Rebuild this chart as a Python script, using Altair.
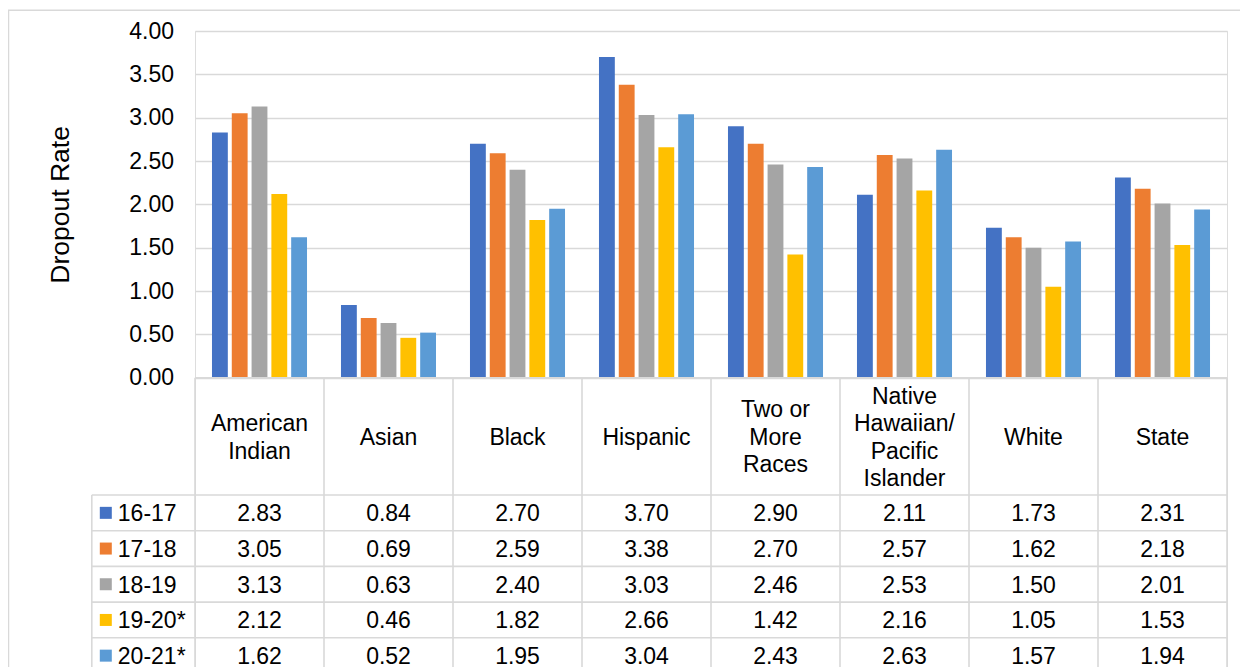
import altair as alt
import pandas as pd

# ---------------- data ----------------
categories = ["American Indian", "Asian", "Black", "Hispanic", "Two or More Races",
              "Native Hawaiian/Pacific Islander", "White", "State"]
header_labels = ["American\nIndian", "Asian", "Black", "Hispanic", "Two or\nMore\nRaces",
                 "Native\nHawaiian/\nPacific\nIslander", "White", "State"]
series = ["16-17", "17-18", "18-19", "19-20*", "20-21*"]
colors = ["#4472C4", "#ED7D31", "#A5A5A5", "#FFC000", "#5B9BD5"]

v_16_17 = [2.83, 0.84, 2.70, 3.70, 2.90, 2.11, 1.73, 2.31]
v_17_18 = [3.05, 0.69, 2.59, 3.38, 2.70, 2.57, 1.62, 2.18]
v_18_19 = [3.13, 0.63, 2.40, 3.03, 2.46, 2.53, 1.50, 2.01]
v_19_20 = [2.12, 0.46, 1.82, 2.66, 1.42, 2.16, 1.05, 1.53]
v_20_21 = [1.62, 0.52, 1.95, 3.04, 2.43, 2.63, 1.57, 1.94]
values = [v_16_17, v_17_18, v_18_19, v_19_20, v_20_21]

y_ticks = [0.0, 0.5, 1.0, 1.5, 2.0, 2.5, 3.0, 3.5, 4.0]

# ---------------- layout constants ----------------
FONT = "Liberation Sans"
GRID = "#d9d9d9"
FS = 23
HEADER_TOP = -3.286      # header row top in table-row units
LEG_COL = -0.8           # legend column left edge in table-column units
LINE_H = 0.77            # header line height in table-row units

# ---------------- tables ----------------
rows = []
for r, s in enumerate(series):
    for c, cat in enumerate(categories):
        rows.append({"category": cat, "series": s, "value": values[r][c],
                     "cx": c + 0.5, "cy": r + 0.5})
df = pd.DataFrame(rows)

head_rows = []
for c, lab in enumerate(header_labels):
    parts = lab.split("\n")
    n = len(parts)
    for k, p in enumerate(parts):
        head_rows.append({"label": p, "cx": c + 0.5,
                          "cy": HEADER_TOP / 2 + (k - (n - 1) / 2) * LINE_H})
df_head = pd.DataFrame(head_rows)

df_rowlab = pd.DataFrame({"series": series,
                          "cx": [LEG_COL] * len(series),
                          "cy": [r + 0.5 for r in range(len(series))]})

nC, nR = len(categories), len(series)
BOTTOM = nR + 0.6
hl = [{"x": 0, "x2": nC, "y": HEADER_TOP}] + \
     [{"x": LEG_COL, "x2": nC, "y": r} for r in range(nR + 1)]
vl = [{"x": LEG_COL, "y": 0, "y2": BOTTOM}] + \
     [{"x": c, "y": HEADER_TOP, "y2": BOTTOM} for c in range(nC + 1)]
df_hl = pd.DataFrame(hl)
df_vl = pd.DataFrame(vl)

color_scale = alt.Scale(domain=series, range=colors)

# ---------------- bar chart ----------------
bars = alt.Chart(df).mark_bar().encode(
    x=alt.X("category:N", sort=categories,
            scale=alt.Scale(domain=categories, paddingInner=0.2326, paddingOuter=0.1163),
            axis=None),
    xOffset=alt.XOffset("series:N", sort=series,
                        scale=alt.Scale(domain=series, paddingInner=0.2, paddingOuter=0.1)),
    y=alt.Y("value:Q",
            scale=alt.Scale(domain=[0, 4], range=[346.7, 0], nice=False),
            axis=alt.Axis(values=y_ticks, format=".2f", title="Dropout Rate",
                          labelFontSize=FS, labelColor="black", labelFont=FONT,
                          labelPadding=21.5, ticks=False, tickSize=0, domain=False,
                          grid=True, gridColor=GRID, gridWidth=1.6,
                          titleFontSize=26.5, titleFontWeight="normal", titleColor="black",
                          titleFont=FONT, titlePadding=54)),
    color=alt.Color("series:N", scale=color_scale, legend=None),
)

# ---------------- data table ----------------
XT = alt.Scale(domain=[0, nC], range=[0, 1032], nice=False, zero=False)
YT = alt.Scale(domain=[0, nR], range=[464, 642.5], nice=False, zero=False)

hlines = alt.Chart(df_hl).mark_rule(color=GRID, strokeWidth=1.6).encode(
    x=alt.X("x:Q", scale=XT, axis=None), x2="x2:Q",
    y=alt.Y("y:Q", scale=YT, axis=None))
vlines = alt.Chart(df_vl).mark_rule(color=GRID, strokeWidth=1.6).encode(
    x=alt.X("x:Q", scale=XT, axis=None),
    y=alt.Y("y:Q", scale=YT, axis=None), y2="y2:Q")

head = alt.Chart(df_head).mark_text(fontSize=FS, font=FONT, color="black",
                                    baseline="middle", dy=1.5).encode(
    x=alt.X("cx:Q", scale=XT, axis=None),
    y=alt.Y("cy:Q", scale=YT, axis=None),
    text="label:N")

cells = alt.Chart(df).mark_text(fontSize=FS, font=FONT, color="black",
                                baseline="middle", dy=1.5).encode(
    x=alt.X("cx:Q", scale=XT, axis=None),
    y=alt.Y("cy:Q", scale=YT, axis=None),
    text=alt.Text("value:Q", format=".2f"))

rowlab = alt.Chart(df_rowlab).mark_text(fontSize=FS, font=FONT, color="black",
                                        align="left", baseline="middle", dx=26,
                                        dy=1.5).encode(
    x=alt.X("cx:Q", scale=XT, axis=None),
    y=alt.Y("cy:Q", scale=YT, axis=None),
    text="series:N")

swatch = alt.Chart(df_rowlab).mark_square(size=144, opacity=1, xOffset=14).encode(
    x=alt.X("cx:Q", scale=XT, axis=None),
    y=alt.Y("cy:Q", scale=YT, axis=None),
    color=alt.Color("series:N", scale=color_scale, legend=None))

table = alt.layer(hlines, vlines, head, cells, rowlab, swatch)

frame = alt.Chart(pd.DataFrame({"a": [0]})).mark_rect(
    fillOpacity=0, stroke=GRID, strokeWidth=1.5).encode(
    x=alt.value(-186.5), x2=alt.value(1200),
    y=alt.value(-20.7), y2=alt.value(720))

chart = alt.layer(frame, bars, table).resolve_scale(
    x="independent", y="independent", color="shared"
).properties(
    width=1032, height=636,
    autosize=alt.AutoSizeParams(type="none"),
    padding={"left": 187, "top": 23, "right": 13, "bottom": 0},
    background="white",
).configure_view(strokeWidth=0).configure(font=FONT)

chart.save("out.html", embed_options={"renderer": "svg", "actions": False})
